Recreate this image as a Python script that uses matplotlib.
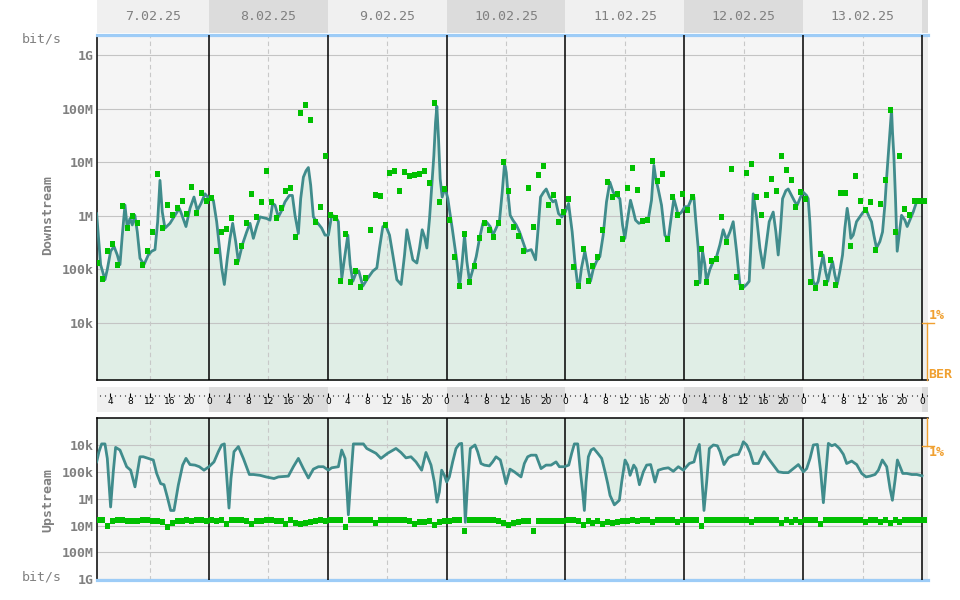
import numpy as np
import matplotlib

matplotlib.use("Agg")
import matplotlib.pyplot as plt
from matplotlib.lines import Line2D
from matplotlib.ticker import NullLocator

# ---- data (hours since 7.02.25 00:00, values as log10 bit/s) ----
dates = ["7.02.25", "8.02.25", "9.02.25", "10.02.25", "11.02.25", "12.02.25", "13.02.25"]

ds_line_hours = [
    1.31, 1.64, 2.11, 2.99, 3.46, 4.13, 4.81, 5.48, 6.02, 6.49, 7.03, 7.50, 8.04, 8.51, 9.02,
    9.52, 10.06, 10.87, 11.74, 12.42, 13.09, 13.63, 14.10, 14.57, 15.11, 16.12, 17.13, 18.01,
    18.55, 19.35, 20.16, 20.97, 21.64, 22.38, 23.19,
    24.00, 24.88, 25.55, 26.56, 27.10, 27.70, 28.24, 28.78, 29.39, 29.93, 30.73, 31.61, 32.28,
    32.96, 33.63, 34.30, 35.65, 36.32, 36.86, 37.33, 38.01, 38.68, 39.35, 40.23, 40.84, 41.37,
    42.05, 42.52, 43.06, 43.60, 44.07, 44.54, 45.08, 45.75, 46.76, 47.43,
    48.11, 48.78, 49.59, 50.13, 50.36, 50.83, 51.37, 52.04, 52.51, 53.05, 53.72, 54.26, 55.07,
    56.08, 57.09, 57.90, 58.44, 59.11, 59.78, 60.46, 61.13, 61.94, 62.81, 63.49, 63.96, 64.50,
    65.17, 65.98, 66.52, 67.06, 67.53, 68.00, 68.54, 69.01, 69.41, 69.75, 70.02, 70.36, 70.69,
    71.10, 71.57, 71.91,
    72.24, 72.58, 73.12, 73.59, 74.06, 74.60, 75.14, 75.61, 76.08, 76.62, 77.29, 77.97, 78.64,
    79.31, 79.99, 80.79, 81.33, 82.14, 82.68, 83.22, 83.69, 84.03, 84.36, 84.83, 85.37, 86.05,
    86.72, 87.39, 88.07, 89.08, 89.95, 90.42, 90.96, 91.57, 92.11, 92.78, 93.45, 93.99, 94.60,
    95.27, 95.95,
    96.62, 97.35, 97.89, 98.36, 98.76, 99.23, 99.91, 100.58, 101.05, 101.59, 102.26, 102.94,
    103.61, 104.28, 104.96, 105.63, 106.30, 106.98, 107.52, 107.99, 108.66, 109.13, 109.67,
    110.14, 110.81, 111.69, 112.70, 113.37, 113.85, 114.25, 114.72, 115.39, 116.07, 116.74,
    117.41, 117.89, 118.42, 118.76, 119.43,
    120.11, 120.78, 121.45, 121.93, 122.33, 122.80, 123.14, 123.68, 124.15, 124.48, 125.16,
    125.83, 126.51, 127.18, 127.85, 128.53, 129.20, 129.87, 130.55, 131.22, 131.89, 132.57,
    133.10, 133.58, 133.91, 134.59, 135.26, 135.93, 136.61, 137.14, 137.95, 138.49, 138.96,
    139.43, 139.84, 140.51, 140.98, 141.66, 142.33, 142.80, 143.47,
    144.01, 144.67, 145.01, 145.35, 145.68, 146.02, 146.56, 147.03, 147.50, 148.04, 148.51,
    148.98, 149.39, 149.93, 150.40, 150.87, 151.41, 151.95, 152.42, 152.89, 153.29, 153.63,
    154.10, 154.77, 155.45, 156.12, 156.79, 157.33, 157.80, 158.28, 158.81, 159.49, 160.03,
    160.50, 160.84, 161.17, 161.51, 161.85, 162.05, 162.32, 162.65, 162.99, 163.39, 163.87,
    164.54, 165.01, 165.55, 166.22, 166.90, 167.57, 168.00,
]
ds_line_log = [
    6.04, 5.64, 5.09, 4.81, 5.00, 5.34, 5.43, 5.27, 5.09, 5.64, 6.20, 5.77, 5.95, 5.83, 6.01,
    5.70, 5.21, 5.09, 5.27, 5.34, 5.37, 5.89, 6.66, 6.07, 5.77, 5.86, 6.01, 6.14,
    6.01, 5.80, 6.14, 6.35, 6.10, 6.23, 6.41,
    6.32, 6.29, 5.89, 5.03, 4.72, 5.21, 5.58, 5.86, 5.52, 5.15, 5.46, 5.70, 5.86,
    5.58, 5.80, 5.98, 5.95, 5.92, 6.23, 6.20, 5.98, 6.10, 6.26, 6.38, 6.38, 6.01,
    5.67, 6.32, 6.72, 6.84, 6.90, 6.57, 5.98, 5.89, 5.77, 5.64,
    5.64, 6.01, 5.98, 5.89, 5.46, 4.84, 5.21, 5.64, 5.09, 4.78, 4.94, 4.97, 4.69,
    4.84, 4.97, 5.03, 5.40, 5.80, 5.80, 5.64, 5.27, 4.81, 4.72, 5.27, 5.74, 5.49,
    5.18, 5.12, 5.40, 5.74, 5.61, 5.40, 5.95, 6.57, 7.12, 7.74, 8.04, 7.43, 6.69,
    6.35, 6.50, 6.44,
    6.32, 6.10, 5.77, 5.46, 5.15, 4.69, 5.15, 5.64, 5.15, 4.78, 5.00, 5.24, 5.58,
    5.86, 5.89, 5.80, 5.64, 5.80, 5.92, 6.44, 6.97, 6.81, 6.44, 6.01, 5.92, 5.83,
    5.70, 5.52, 5.34, 5.37, 5.18, 5.70, 6.35, 6.44, 6.50, 6.35, 6.26, 6.29, 6.04,
    5.98, 6.07,
    6.23, 5.70, 5.15, 4.78, 4.69, 5.03, 5.34, 5.00, 4.78, 5.00, 5.15, 5.24,
    5.64, 6.26, 6.63, 6.44, 6.38, 6.32, 5.83, 5.58, 6.01, 6.29, 6.10,
    5.92, 5.86, 5.89, 5.92, 6.29, 6.94, 6.69, 6.50, 6.20, 5.64, 5.55,
    6.01, 6.32, 6.14, 6.01, 6.07,
    6.17, 6.17, 6.32, 6.35, 5.89, 5.40, 4.75, 5.34, 5.09, 4.78, 5.00,
    5.15, 5.24, 5.46, 5.74, 5.55, 5.70, 5.89, 5.34, 4.72, 4.66, 4.72,
    4.78, 5.70, 6.41, 5.98, 5.40, 5.03, 5.52, 5.89, 6.07, 5.70, 5.27,
    5.77, 6.32, 6.47, 6.50, 6.38, 6.26, 6.20, 6.35,
    6.44, 6.38, 6.32, 5.89, 5.27, 4.78, 4.69, 4.78, 5.03, 5.27, 4.97,
    4.78, 4.97, 5.15, 4.90, 4.72, 4.97, 5.27, 5.77, 6.14, 5.89, 5.58,
    5.64, 5.89, 5.98, 6.07, 6.10, 5.98, 5.89, 5.64, 5.40, 5.52, 5.70,
    6.20, 6.69, 7.12, 7.55, 7.98, 7.55, 7.12, 6.32, 5.34, 5.64, 6.01,
    5.92, 5.80, 5.92, 6.07, 6.26, 6.26, 6.26,
]

# hourly squares, first sample at 01:27 on 7.02.25
SAMPLE_START = 1.45
ds_err_log = [
    5.12, 4.83, 5.34, 5.47, 5.08, 6.18, 5.77, 5.99, 5.87, 5.08, 5.34, 5.70,
    6.78, 5.77, 6.21, 6.02, 6.14, 6.28, 6.04, 6.54, 6.06, 6.42, 6.28, 6.33,
    5.35, 5.70, 5.75, 5.95, 5.13, 5.43, 5.86, 6.41, 5.98, 6.26, 6.83, 6.26,
    5.95, 6.14, 6.46, 6.52, 5.61, 7.92, 8.07, 7.79, 5.89, 6.17, 7.11, 6.02,
    5.95, 4.78, 5.66, 4.77, 4.98, 4.68, 4.84, 5.74, 6.39, 6.37, 5.82, 6.80,
    6.83, 6.47, 6.82, 6.74, 6.76, 6.78, 6.83, 6.61, 8.10, 6.25, 6.50, 5.92,
    5.24, 4.69, 5.67, 4.76, 5.06, 5.59, 5.87, 5.74, 5.61, 5.87, 7.00, 6.47,
    5.79, 5.62, 5.34, 6.52, 5.80, 6.77, 6.92, 6.21, 6.39, 5.88, 6.07, 6.32,
    5.04, 4.69, 5.39, 4.78, 5.06, 5.24, 5.74, 6.63, 6.35, 6.41, 5.56, 6.52,
    6.90, 6.48, 5.91, 5.93, 7.02, 6.65, 6.78, 5.56, 6.35, 6.02, 6.41, 6.11,
    6.35, 4.75, 5.39, 4.76, 5.16, 5.19, 5.98, 5.51, 6.87, 4.86, 4.67, 6.79,
    6.96, 6.35, 6.02, 6.39, 6.68, 6.47, 7.11, 6.85, 6.66, 6.16, 6.44, 6.32,
    4.76, 4.66, 5.28, 4.74, 5.18, 4.71, 6.42, 6.42, 5.43, 6.74, 6.28, 6.10,
    6.26, 5.37, 6.22, 6.67, 7.98, 5.69, 7.11, 6.12, 6.02, 6.28, 6.28, 6.28,
]

us_line_hours = [
    1.31, 1.78, 2.32, 2.99, 3.46, 4.13, 4.67, 5.14, 6.02, 6.69, 7.37, 8.18, 9.05, 10.06, 10.74,
    11.74, 12.75, 13.43, 14.24, 14.91, 15.58, 16.26, 16.93, 17.80, 18.68, 19.35, 20.16, 21.17,
    22.05, 22.99,
    24.00, 25.01, 25.89, 26.56, 27.10, 27.57, 28.04, 28.44, 29.05, 29.93, 30.94, 32.15, 32.96,
    34.30, 35.52, 37.13, 38.01, 40.03, 41.04, 42.05, 43.06, 44.07, 45.08, 46.09, 47.10,
    48.11, 48.78, 50.13, 50.80, 51.48, 52.15, 52.69, 53.16, 54.17, 55.18, 55.86, 56.87, 57.72,
    58.73, 60.08, 61.76, 62.77, 63.78, 64.79, 65.80, 66.95, 67.82, 68.84, 69.51, 70.05, 70.52,
    70.99, 71.53,
    72.00, 72.54, 73.21, 73.89, 74.56, 75.03, 75.44, 75.77, 76.24, 76.78, 77.72, 78.26, 78.93,
    79.61, 80.62, 81.29, 81.97, 82.84, 83.52, 83.99, 84.79, 85.67, 87.02, 87.69, 88.36, 89.04,
    90.05, 91.06, 92.07, 93.08, 94.09, 94.76, 95.77,
    96.65, 97.25, 97.79, 98.47, 99.00, 99.47, 99.81, 100.15, 100.62, 101.16, 101.70, 102.51,
    103.31, 103.99, 104.53, 105.00, 105.87, 106.88, 107.35, 108.03, 108.57, 109.04, 109.78,
    110.25, 110.93, 111.72, 112.39, 113.20, 114.07, 114.75, 115.76, 116.77, 117.78, 118.79,
    119.80,
    121.01, 121.95, 122.49, 123.03, 123.50, 123.97, 124.51, 125.05, 125.86, 126.67, 127.21,
    128.01, 128.89, 129.90, 130.91, 131.45, 131.92, 132.59, 133.27, 133.94, 134.95, 136.09,
    136.97, 137.98, 138.99, 140.00, 141.01, 142.02, 143.03,
    144.04, 144.71, 145.39, 146.06, 146.87, 147.54, 148.08, 148.55, 149.09, 149.76, 150.44,
    151.31, 152.12, 152.79, 153.80, 154.81, 155.82, 156.70, 157.50, 158.51, 159.19, 159.99,
    160.87, 161.55, 162.02, 162.56, 163.03, 163.57, 164.11, 164.92, 165.93, 166.94, 167.61,
    168.00,
]
us_line_log = [
    4.63, 4.25, 3.96, 3.96, 4.50, 6.31, 5.00, 4.09, 4.19, 4.50, 4.81, 4.94, 5.56, 4.44, 4.44,
    4.50, 4.56, 5.06, 5.44, 5.48, 5.94, 6.44, 6.44, 5.50, 4.75, 4.50, 4.73, 4.75,
    4.81, 4.94,
    4.81, 4.63, 4.25, 4.00, 3.96, 5.13, 6.35, 5.25, 4.25, 4.06, 4.50, 5.10, 5.10,
    5.13, 5.19, 5.25, 5.19, 5.16, 4.81, 4.50, 4.88, 5.23, 4.90, 4.81, 4.81,
    4.94, 4.85, 4.81, 4.19, 4.50, 6.60, 5.13, 3.96, 3.96, 3.96, 4.13, 4.23, 4.31,
    4.50, 4.31, 4.13, 4.28, 4.48, 4.44, 4.63, 4.94, 4.28, 4.75, 5.38, 6.13, 5.75,
    4.94, 5.13,
    5.38, 5.19, 4.63, 4.13, 3.96, 3.94, 5.38, 6.88, 5.38, 4.13, 4.00, 4.25, 4.69,
    4.75, 4.78, 4.63, 4.44, 4.56, 5.06, 5.44, 4.90, 5.00, 5.19, 4.69, 4.44, 4.38,
    4.38, 4.88, 4.75, 4.75, 4.63, 4.81, 4.81,
    4.75, 4.31, 3.96, 3.96, 5.00, 5.75, 6.44, 5.38, 4.44, 4.19, 4.13, 4.31,
    4.50, 5.00, 5.44, 5.88, 6.23, 6.06, 5.38, 4.56, 4.75, 5.13, 4.75,
    4.88, 5.48, 5.00, 4.75, 4.73, 5.38, 4.94, 4.88, 4.85, 4.98, 4.81,
    4.94,
    4.69, 4.63, 4.25, 3.98, 5.13, 6.44, 5.38, 4.13, 4.00, 4.03, 4.25,
    4.73, 4.48, 4.38, 4.35, 4.13, 3.88, 4.00, 4.28, 4.69, 4.69, 4.25,
    4.50, 4.75, 5.00, 5.03, 5.03, 4.88, 4.73,
    5.00, 4.88, 4.50, 4.00, 3.98, 5.00, 6.15, 5.13, 3.94, 4.03, 3.98,
    4.13, 4.35, 4.69, 4.60, 4.73, 5.06, 5.19, 5.16, 5.10, 4.94, 4.56,
    4.81, 5.63, 6.06, 5.31, 4.56, 4.81, 5.06, 5.06, 5.10, 5.10, 5.13,
    5.15,
]

us_err_log = [
    6.81, 6.81, 7.00, 6.83, 6.81, 6.81, 6.83, 6.85, 6.85, 6.81, 6.81, 6.83,
    6.83, 6.88, 7.04, 6.90, 6.85, 6.83, 6.81, 6.83, 6.81, 6.81, 6.83, 6.81,
    6.83, 6.81, 6.94, 6.81, 6.81, 6.81, 6.83, 6.94, 6.85, 6.83, 6.81, 6.81,
    6.83, 6.83, 6.96, 6.81, 6.92, 6.94, 6.92, 6.88, 6.83, 6.81, 6.83, 6.81,
    6.81, 6.81, 7.04, 6.81, 6.81, 6.81, 6.81, 6.81, 6.92, 6.81, 6.81, 6.81,
    6.81, 6.81, 6.81, 6.83, 6.94, 6.88, 6.86, 6.83, 6.98, 6.86, 6.85, 6.83,
    6.81, 6.81, 7.19, 6.81, 6.81, 6.81, 6.81, 6.81, 6.81, 6.83, 6.90, 6.98,
    6.92, 6.88, 6.85, 6.83, 7.19, 6.83, 6.85, 6.83, 6.85, 6.83, 6.83, 6.81,
    6.81, 6.83, 6.98, 6.85, 6.90, 6.85, 6.96, 6.88, 6.92, 6.88, 6.85, 6.83,
    6.81, 6.83, 6.81, 6.81, 6.88, 6.81, 6.81, 6.81, 6.81, 6.88, 6.81, 6.81,
    6.81, 6.81, 7.00, 6.81, 6.81, 6.81, 6.81, 6.81, 6.81, 6.81, 6.81, 6.81,
    6.88, 6.81, 6.81, 6.81, 6.81, 6.81, 6.92, 6.81, 6.88, 6.81, 6.88, 6.81,
    6.81, 6.81, 6.96, 6.81, 6.81, 6.81, 6.81, 6.81, 6.81, 6.81, 6.81, 6.88,
    6.81, 6.81, 6.88, 6.81, 6.92, 6.81, 6.88, 6.81, 6.81, 6.81, 6.81, 6.81,
]

rate_ticks = [1e4, 1e5, 1e6, 1e7, 1e8, 1e9]
rate_labels = ["10k", "100k", "1M", "10M", "100M", "1G"]

# ---- style ----
W, H = 960, 600
GREY = "#808080"
TEAL = "#408c8c"
GREEN = "#00c000"
FILL = "#e0eee6"
PLOT_BG = "#f5f5f5"
DAY_LIGHT = "#f0f0f0"
DAY_DARK = "#dcdcdc"
ORANGE = "#f0a030"
BLUE = "#9dccf7"
MONO = "DejaVu Sans Mono"
SQUARE = [(-0.36, -0.5), (0.36, -0.5), (0.36, 0.5), (-0.36, 0.5)]

X0, X_END = 1.28, 168.0
X1 = X_END + 6 / 4.95


def box(x0, y0, x1, y1):
    return [x0 / W, 1 - y1 / H, (x1 - x0) / W, (y1 - y0) / H]


def px(x, y):
    return x / W, 1 - y / H


def day_bands(ax):
    for d in range(8):
        lo, hi = max(24 * d, X0), min(24 * d + 24, X1)
        ax.axvspan(lo, hi, color=DAY_LIGHT if d % 2 == 0 else DAY_DARK, lw=0)
    ax.set_xlim(X0, X1)
    ax.set_ylim(0, 1)
    ax.axis("off")


def rate_panel(ax, ylim, line_h, line_log, err_log):
    ax.set_xlim(X0, X1)
    ax.set_yscale("log")
    ax.set_ylim(*ylim)
    ax.set_facecolor(PLOT_BG)
    ax.axvspan(X_END, X1, color="#eeeeee", lw=0, zorder=0)

    line_v = 10.0 ** np.array(line_log)
    ax.fill_between(line_h, 1e2, line_v, color=FILL, lw=0, zorder=1)
    ax.hlines(rate_ticks, X0, X_END, color="#c4c4c4", lw=0.8, zorder=2)
    for d in range(7):
        ax.axvline(24 * d + 12, color="#c8c8c8", lw=0.8, ls=(0, (4, 3)), zorder=2)
    for d in range(1, 8):
        ax.axvline(24 * d, color="black", lw=1.1, zorder=3)

    ax.plot(line_h, line_v, color=TEAL, lw=2.0, zorder=4)
    err_h = SAMPLE_START + np.arange(len(err_log))
    ax.plot(err_h, 10.0 ** np.array(err_log), ls="none", marker=SQUARE, ms=5,
            mew=0, color=GREEN, zorder=5)

    ax.set_xticks([])
    ax.set_yticks(rate_ticks)
    ax.set_yticklabels(rate_labels, fontfamily=MONO, fontweight="bold",
                       fontsize=9.5, color=GREY)
    ax.yaxis.set_minor_locator(NullLocator())
    ax.tick_params(axis="y", length=0, pad=2)
    ax.spines["right"].set_visible(False)
    for s in ("left", "top", "bottom"):
        ax.spines[s].set_color("black")
        ax.spines[s].set_linewidth(1.1)


fig = plt.figure(figsize=(W / 100, H / 100), dpi=100)

# date header
ax_hdr = fig.add_axes(box(96.5, 0, 928, 33))
day_bands(ax_hdr)
for d, label in enumerate(dates):
    lo, hi = max(24 * d, X0), 24 * d + 24
    ax_hdr.text((lo + hi) / 2, 0.5, label, ha="center", va="center",
                fontfamily=MONO, fontsize=9.5, color=GREY)

# downstream
ax_dn = fig.add_axes(box(96.5, 35, 928, 380))
rate_panel(ax_dn, (10 ** 2.94, 10 ** 9.37), ds_line_hours, ds_line_log, ds_err_log)
ax_dn.spines["top"].set_color(BLUE)
ax_dn.spines["top"].set_linewidth(2.3)

# hour band: a dot every hour, a tick and a label every 4 hours
ax_hr = fig.add_axes(box(96.5, 386.5, 928, 412))
day_bands(ax_hr)
hours = np.arange(2, 170)
dots = hours[hours % 4 != 0]
ax_hr.vlines(dots, 0.62, 0.68, color="black", lw=0.8)
ax_hr.vlines(hours[hours % 4 == 0], 0.58, 0.76, color="black", lw=0.8)
for h in range(4, 169, 4):
    ax_hr.text(h, 0.42, str(h % 24), ha="center", va="center",
               fontfamily="DejaVu Sans", fontsize=6.5, color="black")

# upstream
ax_up = fig.add_axes(box(96.5, 418, 928, 580))
rate_panel(ax_up, (10 ** 9.03, 10 ** 2.995), us_line_hours, us_line_log, us_err_log)
ax_up.spines["bottom"].set_color(BLUE)
ax_up.spines["bottom"].set_linewidth(2.3)

# side texts
txt = dict(fontfamily=MONO, color=GREY, fontsize=9.5)
fig.text(*px(22, 39), "bit/s", ha="left", va="center", **txt)
fig.text(*px(22, 577), "bit/s", ha="left", va="center", **txt)
fig.text(*px(48, 215), "Downstream", rotation=90, ha="center", va="center",
         fontweight="bold", **txt)
fig.text(*px(48, 500), "Upstream", rotation=90, ha="center", va="center",
         fontweight="bold", **txt)

# BER markers
for xs, ys in (([927, 927], [323, 380]), ([922, 934], [323, 323]),
               ([927, 927], [418, 446]), ([922, 934], [446, 446])):
    fig.add_artist(Line2D([x / W for x in xs], [1 - y / H for y in ys],
                          color=ORANGE, lw=1.0))
ber = dict(fontfamily=MONO, fontweight="bold", color=ORANGE, fontsize=9.5,
           ha="left", va="center")
fig.text(*px(929, 316), "1%", **ber)
fig.text(*px(928, 374), "BER", **ber)
fig.text(*px(929, 453), "1%", **ber)

fig.savefig("out.png", dpi=100, facecolor="white")
